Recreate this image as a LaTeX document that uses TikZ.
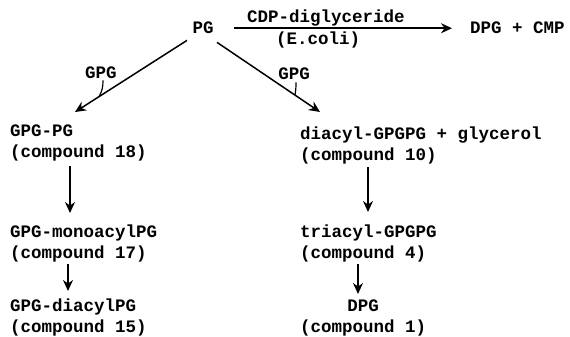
\documentclass[tikz,border=0pt]{standalone}
\usepackage{fontspec}
\setmonofont{Liberation Mono}
\usetikzlibrary{arrows.meta}

\begin{document}
\begin{tikzpicture}[x=1pt,y=1pt,
  chem/.style={font=\ttfamily\bfseries\fontsize{17.5}{20.5}\selectfont,
    inner sep=0pt,align=left},
  enz/.style={chem,inner sep=2pt},
  arr/.style={-{Stealth[length=11pt,width=10pt]},line width=1.5pt},
  hook/.style={line width=1.2pt}]
\useasboundingbox (0,0) rectangle (570,-337);

% ---- top line ----------------------------------------------------------
\node[chem,anchor=base]      (pg)     at (203,-34)  {PG};
\node[chem,anchor=base west] (dpgcmp) at (470,-34)  {DPG + CMP};
\node[chem,anchor=base west] (cdp)    at (247,-23)  {CDP-diglyceride};
\node[chem,anchor=base west] (ecoli)  at (276,-45)  {(E.coli)};
\draw[arr] ([xshift=20]pg.east) -- ([xshift=-18]dpgcmp.west);

% ---- left branch -------------------------------------------------------
\node[chem,anchor=north west] (c18) at (10,-125)  {GPG-PG\\(compound 18)};
\node[chem,anchor=north west] (c17) at (10,-225)  {GPG-monoacylPG\\(compound 17)};
\node[chem,anchor=north west] (c15) at (10,-299)  {GPG-diacylPG\\(compound 15)};
\node[enz,anchor=base]        (gpgL) at (101,-78) {GPG};

% ---- right branch ------------------------------------------------------
\node[chem,anchor=north west] (c10) at (300,-127) {diacyl-GPGPG + glycerol\\(compound 10)};
\node[chem,anchor=north west] (c4)  at (300,-225) {triacyl-GPGPG\\(compound 4)};
\node[chem,anchor=north west,align=center] (c1) at (300,-300) {DPG\\(compound 1)};
\node[enz,anchor=base]        (gpgR) at (294,-80) {GPG};

% ---- the steps ---------------------------------------------------------
\draw[arr] ([shift={(-16,-6)}]pg.south) -- coordinate[pos=0.786] (hkL)
  ([shift={(65,13)}]c18.north west);
\draw[arr] ([shift={(14,-8)}]pg.south) -- coordinate[pos=0.757] (hkR)
  ([shift={(20,15)}]c10.north west);
\draw[hook] ([xshift=2]gpgL.south) to[out=-90,in=60] (hkL);
\draw[hook] ([xshift=2]gpgR.south) to[out=-90,in=80] (hkR);

\draw[arr] ([shift={(60,-5)}]c18.south west) -- ([shift={(60,12)}]c17.north west);
\draw[arr] ([shift={(58,-2)}]c17.south west) -- ([shift={(58,8)}]c15.north west);
\draw[arr] ([shift={(68,-3)}]c10.south west) -- ([shift={(68,13)}]c4.north west);
\draw[arr] ([shift={(58,-2)}]c4.south west)  -- ([shift={(58,6)}]c1.north west);
\end{tikzpicture}
\end{document}
